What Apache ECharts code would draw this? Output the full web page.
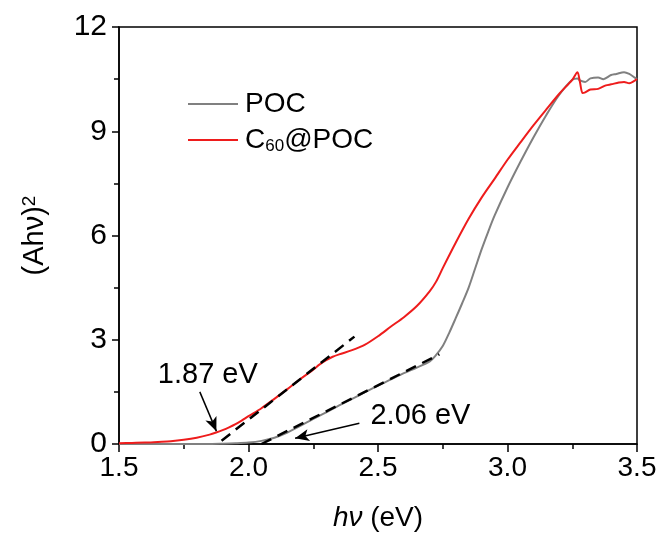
<!DOCTYPE html>
<html><head><meta charset="utf-8">
<script src="https://cdn.jsdelivr.net/npm/echarts@6/dist/echarts.min.js"></script>
<style>html,body{margin:0;padding:0;background:#fff}#c{width:665px;height:542px}</style>
</head><body><div id="c"></div>
<script>
const seriesNames = ['POC', 'C60@POC'];
const pocX = [1.50,1.80,1.90,1.95,2.00,2.05,2.10,2.15,2.20,2.25,2.30,2.35,2.40,2.45,2.50,2.55,2.60,2.65,2.70,2.72,2.75,2.775,2.80,2.825,2.85,2.875,2.90,2.925,2.95,3.00,3.05,3.10,3.15,3.20,3.25,3.27,3.28,3.30,3.32,3.35,3.37,3.40,3.42,3.45,3.47,3.49,3.50];
const pocY = [0.00,0.00,0.01,0.02,0.04,0.09,0.18,0.33,0.52,0.72,0.91,1.11,1.30,1.49,1.68,1.86,2.04,2.20,2.38,2.52,2.82,3.20,3.62,4.05,4.50,5.05,5.60,6.10,6.57,7.38,8.12,8.82,9.47,10.05,10.48,10.52,10.46,10.42,10.52,10.55,10.50,10.62,10.65,10.70,10.65,10.55,10.50];
const c60X = [1.50,1.55,1.60,1.65,1.70,1.75,1.80,1.85,1.875,1.90,1.925,1.95,1.975,2.00,2.05,2.10,2.15,2.20,2.25,2.275,2.30,2.325,2.35,2.40,2.45,2.50,2.55,2.60,2.65,2.70,2.725,2.75,2.80,2.85,2.90,2.95,3.00,3.05,3.10,3.15,3.20,3.25,3.27,3.28,3.29,3.30,3.32,3.35,3.38,3.40,3.43,3.45,3.47,3.49,3.50];
const c60Y = [0.02,0.03,0.04,0.06,0.08,0.12,0.18,0.27,0.33,0.40,0.48,0.57,0.68,0.80,1.03,1.30,1.58,1.87,2.14,2.29,2.41,2.51,2.58,2.70,2.86,3.10,3.38,3.65,3.97,4.40,4.68,5.06,5.79,6.48,7.09,7.63,8.18,8.68,9.17,9.63,10.08,10.48,10.70,10.40,10.10,10.12,10.20,10.22,10.32,10.35,10.40,10.42,10.38,10.45,10.50];
const tangentC60 = [[1.896, 0.095], [2.409, 3.09]];
const tangentPOC = [[2.05, 0.0], [2.737, 2.58]];
const annotTexts = ['1.87 eV', '2.06 eV'];
const annotPos = [[1.843, 1.99], [2.664, 0.80]];
const arrows = [[[1.812, 1.50], [1.876, 0.37]], [[2.428, 0.595], [2.18, 0.163]]];
const xTicks = [1.5, 2.0, 2.5, 3.0, 3.5];
const yTicks = [0, 3, 6, 9, 12];

const FONT = 'Liberation Sans, Arial, sans-serif';
const zip = (xs, ys) => xs.map((x, i) => [x, ys[i]]);
const chart = echarts.init(document.getElementById('c'), null, {renderer: 'canvas'});
chart.setOption({
  animation: false,
  backgroundColor: '#fff',
  grid: {left: 119, right: 28, top: 27, bottom: 98, show: true, borderColor: '#000', borderWidth: 1.5, backgroundColor: 'transparent'},
  legend: {
    left: 183, top: 85, orient: 'vertical', itemWidth: 50, itemHeight: 2, itemGap: 8, icon: 'rect',
    data: seriesNames,
    formatter: n => n === 'C60@POC' ? '{n|C}{s|60}{n|@POC}' : '{n|' + n + '}',
    textStyle: {
      padding: [0, 0, 0, 2],
      rich: {
        n: {fontFamily: FONT, fontSize: 28, color: '#000', lineHeight: 30},
        s: {fontFamily: FONT, fontSize: 17, color: '#000', lineHeight: 17, verticalAlign: 'bottom'}
      }
    }
  },
  xAxis: {
    type: 'value', min: xTicks[0], max: xTicks[xTicks.length - 1], interval: 0.5,
    name: '{i|hν} (eV)', nameLocation: 'middle', nameGap: 60,
    nameTextStyle: {fontFamily: FONT, fontSize: 28, color: '#000', rich: {i: {fontFamily: FONT, fontSize: 28, fontStyle: 'italic', color: '#000'}}},
    axisLine: {lineStyle: {color: '#000', width: 1.5}},
    axisTick: {show: true, inside: false, length: 8, lineStyle: {color: '#000', width: 1.5}},
    minorTick: {show: true, splitNumber: 2, length: 5, lineStyle: {color: '#000', width: 1.5}},
    splitLine: {show: false},
    axisLabel: {fontFamily: FONT, fontSize: 28, color: '#000', margin: 10, formatter: v => v.toFixed(1)}
  },
  yAxis: {
    type: 'value', min: yTicks[0], max: yTicks[yTicks.length - 1], interval: 3,
    name: '(Ahν){sup|2}', nameLocation: 'middle', nameGap: 70, nameRotate: 90,
    nameTextStyle: {fontFamily: FONT, fontSize: 29, color: '#000', rich: {sup: {fontFamily: FONT, fontSize: 19, color: '#000', verticalAlign: 'top', lineHeight: 19}}},
    axisLine: {lineStyle: {color: '#000', width: 1.5}},
    axisTick: {show: true, inside: false, length: 7, lineStyle: {color: '#000', width: 1.5}},
    minorTick: {show: true, splitNumber: 2, length: 5, lineStyle: {color: '#000', width: 1.5}},
    splitLine: {show: false},
    axisLabel: {fontFamily: FONT, fontSize: 30, color: '#000', margin: 12}
  },
  series: [
    {name: seriesNames[0], type: 'line', data: zip(pocX, pocY), showSymbol: false, symbol: 'none', smooth: 0.3, color: '#808080', lineStyle: {width: 2, color: '#808080'}, z: 3},
    {name: seriesNames[1], type: 'line', data: zip(c60X, c60Y), showSymbol: false, symbol: 'none', smooth: 0.3, color: '#ee1c1c', lineStyle: {width: 2, color: '#ee1c1c'}, z: 3},
    {name: 'tan1', type: 'line', data: tangentC60, symbol: 'none', lineStyle: {width: 2.5, color: '#000', type: [11, 7]}, z: 5},
    {name: 'tan2', type: 'line', data: tangentPOC, symbol: 'none', lineStyle: {width: 2.5, color: '#000', type: [11, 7]}, z: 5},
    {name: 'annot', type: 'scatter', data: annotPos.map((p, i) => ({value: p, name: annotTexts[i]})), symbolSize: 0,
      itemStyle: {opacity: 1},
      label: {show: true, position: 'inside', formatter: p => p.name, fontFamily: FONT, fontSize: 29, color: '#000', opacity: 1},
      markLine: {silent: true, symbol: ['none', 'arrow'], symbolSize: [9, 14], label: {show: false},
        lineStyle: {color: '#000', width: 1.5, type: 'solid', opacity: 1},
        data: arrows.map(a => [{coord: a[0]}, {coord: a[1]}])}, z: 6}
  ]
});
</script></body></html>
